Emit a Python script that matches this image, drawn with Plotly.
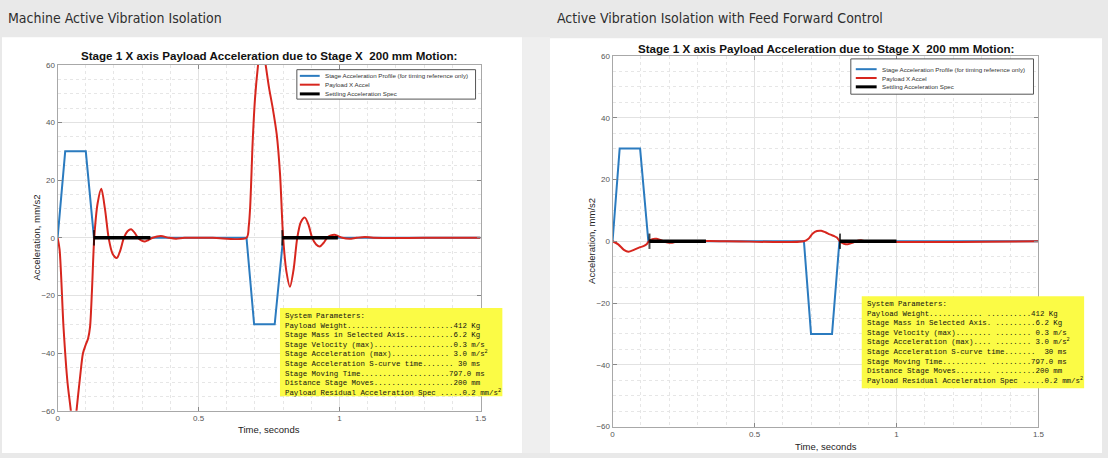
import plotly.graph_objects as go

W, H = 1108, 458

# stage acceleration profile (timing reference), mm/s2
stage_t_left = [0, 0.027, 0.1, 0.129, 0.67, 0.697, 0.77, 0.8, 1.5]
stage_acc_left = [0, 30, 30, 0, 0, -30, -30, 0, 0]
stage_t_right = [0, 0.025, 0.097, 0.126, 0.674, 0.699, 0.773, 0.799, 1.5]
stage_acc_right = [0, 30, 30, 0, 0, -30, -30, 0, 0]

# payload X accel, machine AVI only
payload_t_left = [0, 0.007, 0.021, 0.035, 0.047, 0.057, 0.067, 0.08, 0.09, 0.1, 0.108,
                  0.115, 0.122, 0.13, 0.142, 0.155, 0.168, 0.181, 0.195, 0.21, 0.222,
                  0.235, 0.248, 0.261, 0.273, 0.285, 0.298, 0.31, 0.322, 0.337, 0.366,
                  0.395, 0.42, 0.45, 0.55, 0.67, 0.678, 0.683, 0.692, 0.7, 0.711, 0.724,
                  0.738, 0.75, 0.763, 0.777, 0.789, 0.8, 0.812, 0.824, 0.837, 0.85,
                  0.863, 0.877, 0.89, 0.903, 0.917, 0.93, 0.943, 0.956, 0.969, 0.982,
                  0.995, 1.01, 1.035, 1.06, 1.09, 1.12, 1.3, 1.5]
payload_acc_left = [0, -4, -31, -50, -60, -70, -60, -48, -40, -37, -35,
                    -31, -18, 0, 12, 17, 10, 0, -5.5, -7, -4.5,
                    0, 2.3, 3, 1.8, 0, -1, -1.3, -0.8, 0, 0.6,
                    0, -0.3, 0, 0, 0, 4, 10.7, 33.5, 48, 60, 70,
                    60, 52, 45, 36, 22, 0, -12, -17, -11, 0,
                    5.5, 7, 4.5, 0, -2.3, -3, -1.8, 0, 0.8, 1.1,
                    0.6, 0, -0.35, 0, 0.3, 0, 0, 0]

# payload X accel, with feed forward
payload_t_right = [0, 0.02, 0.04, 0.056, 0.075, 0.095, 0.109, 0.12, 0.126, 0.14, 0.155,
                   0.175, 0.19, 0.21, 0.23, 0.4, 0.674, 0.69, 0.705, 0.72, 0.735, 0.75,
                   0.765, 0.78, 0.79, 0.8, 0.815, 0.828, 0.845, 0.857, 0.875, 0.89, 1.5]
payload_acc_right = [0, -1, -2.8, -3.4, -2.8, -2, -1.6, -1.0, -0.2, 0.7, 0.8,
                     0.2, -0.3, -0.5, 0, 0, 0, 0.8, 2.5, 3.3, 3.4, 2.9,
                     2.2, 1.7, 1.2, 0, -0.8, -1.0, -0.5, 0, 0.3, 0, 0]

# settling acceleration spec windows
spec_t_left = [0.129, 0.329, None, 0.797, 0.994]
spec_t_right = [0.13, 0.329, None, 0.801, 1.0]
spec_acc = [0, 0, None, 0, 0]

x_ticks = [0, 0.5, 1, 1.5]
x_tick_text = ['0', '0.5', '1', '1.5']
y_ticks = [-60, -40, -20, 0, 20, 40, 60]

params_left = [
    'System Parameters:',
    'Payload Weight........................412 Kg',
    'Stage Mass in Selected Axis...........6.2 Kg',
    'Stage Velocity (max)..................0.3 m/s',
    'Stage Acceleration (max)............. 3.0 m/s<sup>2</sup>',
    'Stage Acceleration S-curve time....... 30 ms',
    'Stage Moving Time....................797.0 ms',
    'Distance Stage Moves..................200 mm',
    'Payload Residual Acceleration Spec .....0.2 mm/s<sup>2</sup>',
]
params_right = [
    'System Parameters:',
    'Payload Weight............ ..........412 Kg',
    'Stage Mass in Selected Axis. .........6.2 Kg',
    'Stage Velocity (max)........ ........ 0.3 m/s',
    'Stage Acceleration (max).... ........ 3.0 m/s<sup>2</sup>',
    'Stage Acceleration S-curve time.......  30 ms',
    'Stage Moving Time.......... .........797.0 ms',
    'Distance Stage Moves........ .........200 mm',
    'Payload Residual Acceleration Spec .....0.2 mm/s<sup>2</sup>',
]

legend_names = ['Stage Acceleration Profile (for timing reference only)',
                'Payload X Accel', 'Settling Acceleration Spec']

BLUE = '#2b7bbf'
RED = '#d7261e'
BLACK = '#000000'
SANS = 'Liberation Sans, Arial, sans-serif'
MONO = 'Liberation Mono, Courier New, monospace'
NARROW = 'Liberation Sans Narrow, DejaVu Sans Condensed, sans-serif'


def px(x):
    return x / W


def py(y):
    return 1 - y / H


fig = go.Figure()

for ax, st, sa, pt, pa, spt in [('', stage_t_left, stage_acc_left, payload_t_left, payload_acc_left, spec_t_left),
                                ('2', stage_t_right, stage_acc_right, payload_t_right, payload_acc_right, spec_t_right)]:
    fig.add_trace(go.Scatter(x=st, y=sa, mode='lines', name=legend_names[0],
                             line=dict(color=BLUE, width=2), xaxis='x' + ax, yaxis='y' + ax,
                             showlegend=False))
    fig.add_trace(go.Scatter(x=pt, y=pa, mode='lines', name=legend_names[1],
                             line=dict(color=RED, width=2, shape='spline', smoothing=0.8),
                             xaxis='x' + ax, yaxis='y' + ax, showlegend=False))
    fig.add_trace(go.Scatter(x=spt, y=spec_acc, mode='lines+markers', name=legend_names[2],
                             line=dict(color=BLACK, width=3.5),
                             marker=dict(symbol='line-ns', size=[11, 0, 0, 11, 0],
                                         line=dict(color=BLACK, width=2)),
                             xaxis='x' + ax, yaxis='y' + ax, showlegend=False))


def x_axis(left, right, anchor):
    return dict(domain=[px(left), px(right)], anchor=anchor, range=[0, 1.5],
                tickvals=x_ticks, ticktext=x_tick_text, ticks='inside', ticklen=4,
                tickcolor='#888', showline=True, linecolor='#a8a8a8', linewidth=1,
                mirror='ticks', showgrid=True, gridcolor='#e2e2e2', zeroline=False,
                tickfont=dict(family=SANS, size=8, color='#555'),
                minor=dict(dtick=0.1, showgrid=True, gridcolor='#e6e6e6', griddash='dot'))


def y_axis(top, bottom, anchor):
    return dict(domain=[py(bottom), py(top)], anchor=anchor, range=[-60, 60],
                tickvals=y_ticks, ticks='inside', ticklen=4, tickcolor='#888',
                showline=True, linecolor='#a8a8a8', linewidth=1, mirror='ticks',
                showgrid=True, gridcolor='#e2e2e2', zeroline=False,
                tickfont=dict(family=SANS, size=8, color='#555'),
                minor=dict(dtick=5, showgrid=True, gridcolor='#e6e6e6', griddash='dot'))


shapes = [
    # white panels
    dict(type='rect', xref='paper', yref='paper', x0=px(0), x1=px(524), y0=py(458), y1=py(34),
         fillcolor='white', line=dict(width=0), layer='below'),
    dict(type='rect', xref='paper', yref='paper', x0=px(552), x1=px(1108), y0=py(458), y1=py(35),
         fillcolor='white', line=dict(width=0), layer='below'),
    dict(type='rect', xref='paper', yref='paper', x0=px(524), x1=px(552), y0=py(458), y1=py(34),
         fillcolor='#efefef', line=dict(width=0), layer='below'),
    # yellow parameter boxes
    dict(type='rect', xref='paper', yref='paper', x0=px(280), x1=px(504), y0=py(400), y1=py(310),
         fillcolor='#fbfb45', line=dict(width=0), layer='above'),
    dict(type='rect', xref='paper', yref='paper', x0=px(866), x1=px(1090), y0=py(392), y1=py(298),
         fillcolor='#fbfb45', line=dict(width=0), layer='above'),
]

annotations = [
    dict(text='Machine Active Vibration Isolation', x=px(4), y=py(14), xanchor='left',
         yanchor='middle', font=dict(family=NARROW, size=14, color='#2e2e2e')),
    dict(text='Active Vibration Isolation with Feed Forward Control', x=px(557), y=py(14),
         xanchor='left', yanchor='middle', font=dict(family=NARROW, size=14, color='#2e2e2e')),
]

# chart titles, axis titles, legends, parameter text
for (left, right, top, bottom, title_y, leg, box, rows, par_xy, par_txt, xt_y, yt_x) in [
        (56, 482, 62, 415, 53, (297, 477, 67, 97), (300, 320, 323), (73.3, 82.3, 91.7),
         (283, 312), params_left, 434, 35),
        (615, 1044, 53, 431, 45.5, (855, 1039, 56, 92), (860, 881, 884), (66.5, 75.5, 84.5),
         (869, 300), params_right, 451, 594)]:
    mid = (left + right) / 2
    annotations.append(dict(text='<b>Stage 1 X axis Payload Acceleration due to Stage X  200 mm Motion:</b>',
                            x=px(mid), y=py(title_y), xanchor='center', yanchor='middle',
                            font=dict(family=SANS, size=11.6, color='#111')))
    annotations.append(dict(text='Time, seconds', x=px(mid), y=py(xt_y), xanchor='center',
                            yanchor='middle', font=dict(family=SANS, size=9.5, color='#222')))
    annotations.append(dict(text='Acceleration, mm/s2', x=px(yt_x), y=py((top + bottom) / 2),
                            xanchor='center', yanchor='middle', textangle=-90,
                            font=dict(family=SANS, size=9.5, color='#222')))
    shapes.append(dict(type='rect', xref='paper', yref='paper', x0=px(leg[0]), x1=px(leg[1]),
                       y0=py(leg[3]), y1=py(leg[2]), fillcolor='white',
                       line=dict(color='#555', width=1), layer='above'))
    for name, color, width, row in zip(legend_names, [BLUE, RED, BLACK], [2, 2, 3], rows):
        shapes.append(dict(type='line', xref='paper', yref='paper', x0=px(box[0]), x1=px(box[1]),
                           y0=py(row), y1=py(row), line=dict(color=color, width=width), layer='above'))
        annotations.append(dict(text=name, x=px(box[2]), y=py(row), xanchor='left', yanchor='middle',
                                font=dict(family=SANS, size=6.2, color='#333')))
    annotations.append(dict(text='<br>'.join(par_txt), x=px(par_xy[0]), y=py(par_xy[1]),
                            xanchor='left', yanchor='top', align='left',
                            font=dict(family=MONO, size=7.4, color='#111')))

for a in annotations:
    a.update(xref='paper', yref='paper', showarrow=False)

fig.update_layout(
    width=W, height=H,
    margin=dict(l=0, r=0, t=0, b=0),
    paper_bgcolor='#e9e9e9',
    plot_bgcolor='white',
    showlegend=False,
    xaxis=x_axis(56, 482, 'y'),
    yaxis=y_axis(62, 415, 'x'),
    xaxis2=x_axis(615, 1044, 'y2'),
    yaxis2=y_axis(53, 431, 'x2'),
    shapes=shapes,
    annotations=annotations,
)

# page has a default 8px body margin; drop it so the figure fills the window
fig.write_html("out.html", config={'displayModeBar': False},
               post_script="document.body.style.margin='0px';")
